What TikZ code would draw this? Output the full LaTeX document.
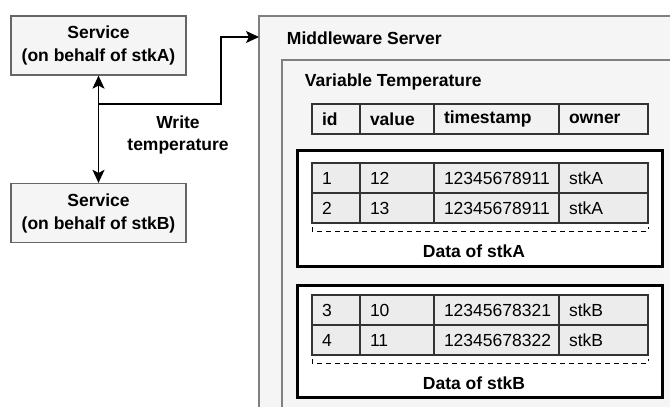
\documentclass[tikz,border=0pt]{standalone}
\usepackage{fontspec}
\setmainfont{Liberation Sans}
\usetikzlibrary{arrows.meta,positioning,calc}

\begin{document}
\begin{tikzpicture}[x=1pt, y=-1pt, >={Stealth[length=13pt,width=12pt,inset=3pt]},
    line width=1.2pt, font=\fontsize{17.5}{22}\selectfont,
    service/.style={draw=gray!80!black, fill=gray!8, minimum width=175pt,
      minimum height=59pt, align=center, font=\fontsize{17.5}{23}\selectfont\bfseries},
    cell/.style={draw=black!80, fill=gray!15, text width=#1, minimum height=30pt,
      inner xsep=10pt, inner ysep=0pt, outer sep=0pt, align=left},
    head/.style={cell=#1, fill=gray!10, font=\fontsize{17.5}{22}\selectfont\bfseries},
    ownerbox/.style={draw=black, line width=3pt, fill=white, minimum width=365pt,
      minimum height=116pt, anchor=north west, inner sep=0pt},
    brace/.style={line width=1pt, dash pattern=on 5pt off 4pt},
    title/.style={anchor=west, font=\fontsize{17.5}{22}\selectfont\bfseries}]
    \clip (0,0) rectangle (670,407);

    % services
    \node [service] (svcA) at (98.5,45.5) {Service\\(on behalf of stkA)};
    \node [service] (svcB) at (98.5,213) {Service\\(on behalf of stkB)};

    % middleware server
    \draw [draw=gray, fill=gray!8] (259,16) rectangle (700,430);
    \coordinate (mw) at (259,37);
    \node [title] (mwtitle) at (283,38) {Middleware Server};
    \draw [draw=gray, fill=gray!8] (282,60) rectangle (700,430);
    \node [title] (vartitle) at (301,82) {Variable Temperature};

    % header
    \node [head=28pt, anchor=north west] (hid) at (312,104) {id};
    \node [head=54pt, right=0pt of hid]    (hval) {value};
    \node [head=105pt, right=0pt of hval]  (hts)  {timestamp};
    \node [head=69pt, right=0pt of hts]    (hown) {owner};

    % data of stkA
    \node [ownerbox] (boxA) at (296,148.5) {};
    \node [cell=28pt, anchor=north west] (a1id) at (312,163) {1};
    \node [cell=54pt, right=0pt of a1id]  (a1val) {12};
    \node [cell=105pt, right=0pt of a1val] (a1ts)  {12345678911};
    \node [cell=69pt, right=0pt of a1ts]  (a1own) {stkA};
    \node [cell=28pt, below=0pt of a1id]  (a2id)  {2};
    \node [cell=54pt, right=0pt of a2id]  (a2val) {13};
    \node [cell=105pt, right=0pt of a2val] (a2ts)  {12345678911};
    \node [cell=69pt, right=0pt of a2ts]  (a2own) {stkA};
    \draw [brace] ($(a2id.south west)+(0,4)$) -- ++(0,4)
        -- ($(a2own.south east)+(0,8)$) -- ++(0,-4);
    \node [font=\fontsize{17.5}{22}\selectfont\bfseries] (labA) at (474,251) {Data of stkA};

    % data of stkB
    \node [ownerbox, minimum height=112pt] (boxB) at (296,284) {};
    \node [cell=28pt, anchor=north west] (b1id) at (312,295) {3};
    \node [cell=54pt, right=0pt of b1id]  (b1val) {10};
    \node [cell=105pt, right=0pt of b1val] (b1ts)  {12345678321};
    \node [cell=69pt, right=0pt of b1ts]  (b1own) {stkB};
    \node [cell=28pt, below=0pt of b1id]  (b2id)  {4};
    \node [cell=54pt, right=0pt of b2id]  (b2val) {11};
    \node [cell=105pt, right=0pt of b2val] (b2ts)  {12345678322};
    \node [cell=69pt, right=0pt of b2ts]  (b2own) {stkB};
    \draw [brace] ($(b2id.south west)+(0,4)$) -- ++(0,4)
        -- ($(b2own.south east)+(0,8)$) -- ++(0,-4);
    \node [font=\fontsize{17.5}{22}\selectfont\bfseries] (labB) at (474,383) {Data of stkB};

    % write temperature
    \coordinate (split) at (99,104);
    \draw [<->, line width=1.5pt] (svcA) -- (svcB);
    \draw [->, line width=1.5pt] (split) -| (221,37) -- (mw);
    \node [align=center, font=\fontsize{17.5}{22}\selectfont\bfseries] (write)
        at (178,135) {Write\\temperature};
\end{tikzpicture}
\end{document}
